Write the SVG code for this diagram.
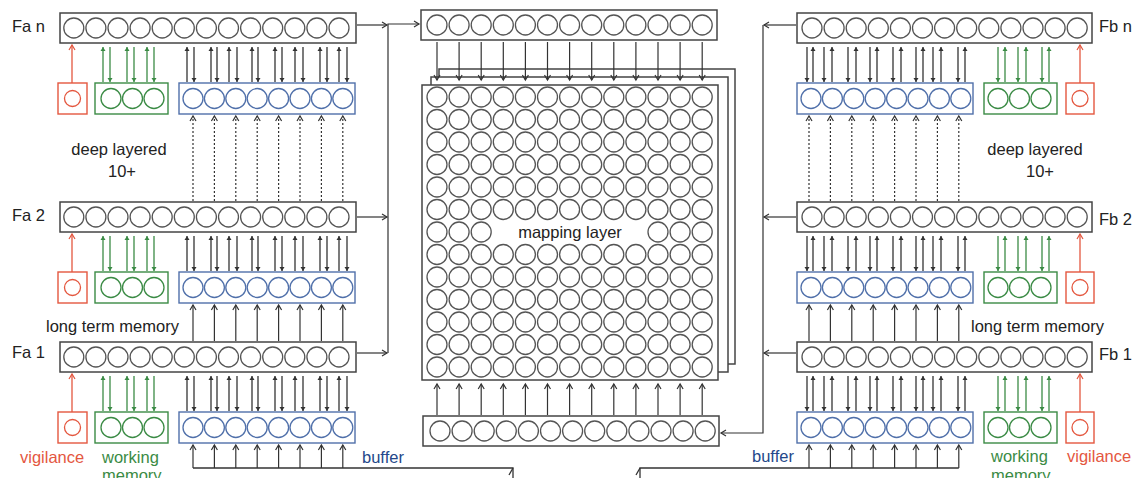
<svg xmlns="http://www.w3.org/2000/svg" xmlns:xlink="http://www.w3.org/1999/xlink" width="1137" height="478" viewBox="0 0 1137 478">
<style>
text{font-family:'Liberation Sans',Arial,sans-serif;font-size:16.5px;fill:#222}
.bx{fill:#fff;stroke:#444;stroke-width:1.5}
.cg{fill:none;stroke:#555;stroke-width:1.3}
.rb{fill:#fff;stroke:#e4573f;stroke-width:1.4}
.gb{fill:#fff;stroke:#3b8b45;stroke-width:1.4}
.bb{fill:#fff;stroke:#5070aa;stroke-width:1.4}
.rc{fill:none;stroke:#e4573f;stroke-width:1.3}
.gc{fill:none;stroke:#3b8b45;stroke-width:1.3}
.bc{fill:none;stroke:#5070aa;stroke-width:1.3}
.k{stroke:#333;stroke-width:1.3;fill:none}
.kf{stroke:#333;stroke-width:1.3;marker-end:url(#mf)}
.ko{stroke:#333;stroke-width:1.2;fill:none;marker-end:url(#mo)}
.gl{stroke:#3b8b45;stroke-width:1.3;marker-end:url(#mg)}
.rl{stroke:#e4573f;stroke-width:1.3;marker-end:url(#mr)}
.d{stroke-dasharray:2 2}
.tr{fill:#e4573f}.tg{fill:#3b8b45}.tb{fill:#24488a}
</style>
<defs>
<marker id="mf" markerUnits="userSpaceOnUse" markerWidth="6" markerHeight="6" refX="4" refY="2.5" orient="auto" overflow="visible"><path d="M0,0L4,2.5L0,5z" fill="#333"/></marker>
<marker id="mg" markerUnits="userSpaceOnUse" markerWidth="6" markerHeight="6" refX="4" refY="2.5" orient="auto" overflow="visible"><path d="M0,0L4,2.5L0,5z" fill="#3b8b45"/></marker>
<marker id="mo" markerUnits="userSpaceOnUse" markerWidth="8" markerHeight="8" refX="5" refY="3" orient="auto" overflow="visible"><path d="M0,0L5,3L0,6" fill="none" stroke="#333" stroke-width="1.2"/></marker>
<marker id="mr" markerUnits="userSpaceOnUse" markerWidth="8" markerHeight="8" refX="5" refY="3" orient="auto" overflow="visible"><path d="M0,0L5,3L0,6" fill="none" stroke="#e4573f" stroke-width="1.2"/></marker>
<g id="r13"><circle cx="0" cy="0" r="10"/><circle cx="22.1" cy="0" r="10"/><circle cx="44.2" cy="0" r="10"/><circle cx="66.3" cy="0" r="10"/><circle cx="88.4" cy="0" r="10"/><circle cx="110.5" cy="0" r="10"/><circle cx="132.6" cy="0" r="10"/><circle cx="154.7" cy="0" r="10"/><circle cx="176.8" cy="0" r="10"/><circle cx="198.9" cy="0" r="10"/><circle cx="221" cy="0" r="10"/><circle cx="243.1" cy="0" r="10"/><circle cx="265.2" cy="0" r="10"/></g>
<g id="r8"><circle cx="0" cy="0" r="10"/><circle cx="21.4" cy="0" r="10"/><circle cx="42.8" cy="0" r="10"/><circle cx="64.2" cy="0" r="10"/><circle cx="85.6" cy="0" r="10"/><circle cx="107" cy="0" r="10"/><circle cx="128.4" cy="0" r="10"/><circle cx="149.8" cy="0" r="10"/></g>
<g id="r3"><circle cx="0" cy="0" r="10"/><circle cx="21.5" cy="0" r="10"/><circle cx="43" cy="0" r="10"/></g>
<g id="r3m"><circle cx="0" cy="0" r="10"/><circle cx="22.1" cy="0" r="10"/><circle cx="44.2" cy="0" r="10"/></g>
<g id="cL">
<line class="rl" x1="72" y1="70" x2="72" y2="32"/>
<line class="gl" x1="103" y1="69" x2="103" y2="34"/><line class="gl" x1="110" y1="34" x2="110" y2="69"/>
<line class="gl" x1="127" y1="69" x2="127" y2="34"/><line class="gl" x1="134" y1="34" x2="134" y2="69"/>
<line class="gl" x1="147" y1="69" x2="147" y2="34"/><line class="gl" x1="154" y1="34" x2="154" y2="69"/>
<line class="kf" x1="187" y1="69" x2="187" y2="34"/><line class="kf" x1="194" y1="34" x2="194" y2="69"/>
<line class="kf" x1="211" y1="69" x2="211" y2="34"/><line class="kf" x1="217" y1="34" x2="217" y2="69"/>
<line class="kf" x1="229" y1="69" x2="229" y2="34"/><line class="kf" x1="237" y1="34" x2="237" y2="69"/>
<line class="kf" x1="252" y1="69" x2="252" y2="34"/><line class="kf" x1="258" y1="34" x2="258" y2="69"/>
<line class="kf" x1="275" y1="69" x2="275" y2="34"/><line class="kf" x1="282" y1="34" x2="282" y2="69"/>
<line class="kf" x1="295" y1="69" x2="295" y2="34"/><line class="kf" x1="303" y1="34" x2="303" y2="69"/>
<line class="kf" x1="320" y1="69" x2="320" y2="34"/><line class="kf" x1="327" y1="34" x2="327" y2="69"/>
<line class="kf" x1="339" y1="69" x2="339" y2="34"/><line class="kf" x1="347" y1="34" x2="347" y2="69"/>
</g>
<g id="cR">
<line class="rl" x1="1080" y1="70" x2="1080" y2="32"/>
<line class="gl" x1="998" y1="34" x2="998" y2="69"/><line class="gl" x1="1005" y1="69" x2="1005" y2="34"/>
<line class="gl" x1="1018" y1="34" x2="1018" y2="69"/><line class="gl" x1="1026" y1="69" x2="1026" y2="34"/>
<line class="gl" x1="1042" y1="34" x2="1042" y2="69"/><line class="gl" x1="1049" y1="69" x2="1049" y2="34"/>
<line class="kf" x1="807" y1="34" x2="807" y2="69"/><line class="kf" x1="813" y1="69" x2="813" y2="34"/>
<line class="kf" x1="824" y1="34" x2="824" y2="69"/><line class="kf" x1="832" y1="69" x2="832" y2="34"/>
<line class="kf" x1="848" y1="34" x2="848" y2="69"/><line class="kf" x1="856" y1="69" x2="856" y2="34"/>
<line class="kf" x1="870" y1="34" x2="870" y2="69"/><line class="kf" x1="877" y1="69" x2="877" y2="34"/>
<line class="kf" x1="893" y1="34" x2="893" y2="69"/><line class="kf" x1="901" y1="69" x2="901" y2="34"/>
<line class="kf" x1="916" y1="34" x2="916" y2="69"/><line class="kf" x1="923" y1="69" x2="923" y2="34"/>
<line class="kf" x1="933" y1="34" x2="933" y2="69"/><line class="kf" x1="941" y1="69" x2="941" y2="34"/>
<line class="kf" x1="958" y1="34" x2="958" y2="69"/><line class="kf" x1="965" y1="69" x2="965" y2="34"/>
</g>
</defs>

<!-- mapping layer (three stacked sheets) -->
<g id="mapping-layer">
<rect class="bx" x="439" y="69" width="296" height="295"/>
<rect class="bx" x="431" y="77" width="297" height="295"/>
<rect class="bx" x="422" y="85" width="296" height="295"/>
<use xlink:href="#r13" class="cg" x="437" y="97"/>
<use xlink:href="#r13" class="cg" x="437" y="119.5"/>
<use xlink:href="#r13" class="cg" x="437" y="142"/>
<use xlink:href="#r13" class="cg" x="437" y="164.5"/>
<use xlink:href="#r13" class="cg" x="437" y="187"/>
<use xlink:href="#r13" class="cg" x="437" y="209.5"/>
<use xlink:href="#r3m" class="cg" x="437" y="232"/>
<use xlink:href="#r3m" class="cg" x="658" y="232"/>
<use xlink:href="#r13" class="cg" x="437" y="254.5"/>
<use xlink:href="#r13" class="cg" x="437" y="277"/>
<use xlink:href="#r13" class="cg" x="437" y="299.5"/>
<use xlink:href="#r13" class="cg" x="437" y="322"/>
<use xlink:href="#r13" class="cg" x="437" y="344.5"/>
<use xlink:href="#r13" class="cg" x="437" y="367"/>
<text x="570" y="238" text-anchor="middle">mapping layer</text>
</g>

<g id="top-layer">
<rect class="bx" x="421" y="10" width="296" height="30"/>
<use xlink:href="#r13" class="cg" x="437" y="25"/>
</g>
<g id="bottom-layer">
<rect class="bx" x="423" y="416" width="296" height="30"/>
<use xlink:href="#r13" class="cg" x="440" y="431"/>
</g>

<!-- left stack -->
<g id="fa-n"><rect class="bx" x="60" y="13" width="296" height="30"/><use xlink:href="#r13" class="cg" x="73.8" y="28"/></g>
<g id="fa-n-vigilance"><rect class="rb" x="58" y="83" width="29" height="31"/><circle class="rc" cx="72.5" cy="98.5" r="8"/></g>
<g id="fa-n-working"><rect class="gb" x="95" y="83" width="73" height="31"/><use xlink:href="#r3" class="gc" x="111" y="98.5"/></g>
<g id="fa-n-buffer"><rect class="bb" x="179" y="83" width="176" height="31"/><use xlink:href="#r8" class="bc" x="193" y="98.5"/></g>

<g id="fa-2"><rect class="bx" x="60" y="202" width="296" height="30"/><use xlink:href="#r13" class="cg" x="73.8" y="217"/></g>
<g id="fa-2-vigilance"><rect class="rb" x="58" y="272" width="29" height="31"/><circle class="rc" cx="72.5" cy="287.5" r="8"/></g>
<g id="fa-2-working"><rect class="gb" x="95" y="272" width="73" height="31"/><use xlink:href="#r3" class="gc" x="111" y="287.5"/></g>
<g id="fa-2-buffer"><rect class="bb" x="179" y="272" width="176" height="31"/><use xlink:href="#r8" class="bc" x="193" y="287.5"/></g>

<g id="fa-1"><rect class="bx" x="60" y="342" width="296" height="30"/><use xlink:href="#r13" class="cg" x="73.8" y="357"/></g>
<g id="fa-1-vigilance"><rect class="rb" x="58" y="412" width="29" height="31"/><circle class="rc" cx="72.5" cy="427.5" r="8"/></g>
<g id="fa-1-working"><rect class="gb" x="95" y="412" width="73" height="31"/><use xlink:href="#r3" class="gc" x="111" y="427.5"/></g>
<g id="fa-1-buffer"><rect class="bb" x="179" y="412" width="176" height="31"/><use xlink:href="#r8" class="bc" x="193" y="427.5"/></g>

<!-- right stack -->
<g id="fb-n"><rect class="bx" x="797" y="13" width="295" height="30"/><use xlink:href="#r13" class="cg" x="812" y="28"/></g>
<g id="fb-n-buffer"><rect class="bb" x="797" y="83" width="176" height="31"/><use xlink:href="#r8" class="bc" x="811" y="98.5"/></g>
<g id="fb-n-working"><rect class="gb" x="984" y="83" width="73" height="31"/><use xlink:href="#r3" class="gc" x="998" y="98.5"/></g>
<g id="fb-n-vigilance"><rect class="rb" x="1066" y="83" width="28" height="31"/><circle class="rc" cx="1080" cy="98.5" r="8"/></g>

<g id="fb-2"><rect class="bx" x="797" y="202" width="295" height="30"/><use xlink:href="#r13" class="cg" x="812" y="217"/></g>
<g id="fb-2-buffer"><rect class="bb" x="797" y="272" width="176" height="31"/><use xlink:href="#r8" class="bc" x="811" y="287.5"/></g>
<g id="fb-2-working"><rect class="gb" x="984" y="272" width="73" height="31"/><use xlink:href="#r3" class="gc" x="998" y="287.5"/></g>
<g id="fb-2-vigilance"><rect class="rb" x="1066" y="272" width="28" height="31"/><circle class="rc" cx="1080" cy="287.5" r="8"/></g>

<g id="fb-1"><rect class="bx" x="797" y="342" width="295" height="30"/><use xlink:href="#r13" class="cg" x="812" y="357"/></g>
<g id="fb-1-buffer"><rect class="bb" x="797" y="412" width="176" height="31"/><use xlink:href="#r8" class="bc" x="811" y="427.5"/></g>
<g id="fb-1-working"><rect class="gb" x="984" y="412" width="73" height="31"/><use xlink:href="#r3" class="gc" x="998" y="427.5"/></g>
<g id="fb-1-vigilance"><rect class="rb" x="1066" y="412" width="28" height="31"/><circle class="rc" cx="1080" cy="427.5" r="8"/></g>

<!-- connectors -->
<g id="connectors">
<use xlink:href="#cL" y="13"/><use xlink:href="#cL" y="202"/><use xlink:href="#cL" y="342"/>
<use xlink:href="#cR" y="13"/><use xlink:href="#cR" y="202"/><use xlink:href="#cR" y="342"/>
<!-- dotted deep layers -->
<line class="ko d" x1="193" y1="201" x2="193" y2="116"/><line class="ko d" x1="214.4" y1="201" x2="214.4" y2="116"/><line class="ko d" x1="235.8" y1="201" x2="235.8" y2="116"/><line class="ko d" x1="257.2" y1="201" x2="257.2" y2="116"/><line class="ko d" x1="278.6" y1="201" x2="278.6" y2="116"/><line class="ko d" x1="300" y1="201" x2="300" y2="116"/><line class="ko d" x1="321.4" y1="201" x2="321.4" y2="116"/><line class="ko d" x1="342.8" y1="201" x2="342.8" y2="116"/>
<line class="ko d" x1="809" y1="201" x2="809" y2="116"/><line class="ko d" x1="830.4" y1="201" x2="830.4" y2="116"/><line class="ko d" x1="851.8" y1="201" x2="851.8" y2="116"/><line class="ko d" x1="873.2" y1="201" x2="873.2" y2="116"/><line class="ko d" x1="894.6" y1="201" x2="894.6" y2="116"/><line class="ko d" x1="916" y1="201" x2="916" y2="116"/><line class="ko d" x1="937.4" y1="201" x2="937.4" y2="116"/><line class="ko d" x1="958.8" y1="201" x2="958.8" y2="116"/>
<!-- F1 to F2 buffers -->
<line class="ko" x1="193" y1="341" x2="193" y2="305"/><line class="ko" x1="214.4" y1="341" x2="214.4" y2="305"/><line class="ko" x1="235.8" y1="341" x2="235.8" y2="305"/><line class="ko" x1="257.2" y1="341" x2="257.2" y2="305"/><line class="ko" x1="278.6" y1="341" x2="278.6" y2="305"/><line class="ko" x1="300" y1="341" x2="300" y2="305"/><line class="ko" x1="321.4" y1="341" x2="321.4" y2="305"/><line class="ko" x1="342.8" y1="341" x2="342.8" y2="305"/>
<line class="ko" x1="809" y1="341" x2="809" y2="305"/><line class="ko" x1="830.4" y1="341" x2="830.4" y2="305"/><line class="ko" x1="851.8" y1="341" x2="851.8" y2="305"/><line class="ko" x1="873.2" y1="341" x2="873.2" y2="305"/><line class="ko" x1="894.6" y1="341" x2="894.6" y2="305"/><line class="ko" x1="916" y1="341" x2="916" y2="305"/><line class="ko" x1="937.4" y1="341" x2="937.4" y2="305"/><line class="ko" x1="958.8" y1="341" x2="958.8" y2="305"/>
<!-- input buffers -->
<path class="k" d="M193,468H513V480"/><path class="k" d="M513,468L509,475"/>
<path class="k" d="M958.8,468H640V480"/><path class="k" d="M640,468L636,475"/>
<line class="ko" x1="193" y1="468" x2="193" y2="445"/><line class="ko" x1="214.4" y1="468" x2="214.4" y2="445"/><line class="ko" x1="235.8" y1="468" x2="235.8" y2="445"/><line class="ko" x1="257.2" y1="468" x2="257.2" y2="445"/><line class="ko" x1="278.6" y1="468" x2="278.6" y2="445"/><line class="ko" x1="300" y1="468" x2="300" y2="445"/><line class="ko" x1="321.4" y1="468" x2="321.4" y2="445"/><line class="ko" x1="342.8" y1="468" x2="342.8" y2="445"/>
<line class="ko" x1="809" y1="468" x2="809" y2="445"/><line class="ko" x1="830.4" y1="468" x2="830.4" y2="445"/><line class="ko" x1="851.8" y1="468" x2="851.8" y2="445"/><line class="ko" x1="873.2" y1="468" x2="873.2" y2="445"/><line class="ko" x1="894.6" y1="468" x2="894.6" y2="445"/><line class="ko" x1="916" y1="468" x2="916" y2="445"/><line class="ko" x1="937.4" y1="468" x2="937.4" y2="445"/><line class="ko" x1="958.8" y1="468" x2="958.8" y2="445"/>
<!-- top layer to mapping -->
<line class="ko" x1="437" y1="42" x2="437" y2="80"/><line class="ko" x1="459.1" y1="42" x2="459.1" y2="80"/><line class="ko" x1="481.2" y1="42" x2="481.2" y2="80"/><line class="ko" x1="503.3" y1="42" x2="503.3" y2="80"/><line class="ko" x1="525.4" y1="42" x2="525.4" y2="80"/><line class="ko" x1="547.5" y1="42" x2="547.5" y2="80"/><line class="ko" x1="569.6" y1="42" x2="569.6" y2="80"/><line class="ko" x1="591.7" y1="42" x2="591.7" y2="80"/><line class="ko" x1="613.8" y1="42" x2="613.8" y2="80"/><line class="ko" x1="635.9" y1="42" x2="635.9" y2="80"/><line class="ko" x1="658" y1="42" x2="658" y2="80"/><line class="ko" x1="680.1" y1="42" x2="680.1" y2="80"/><line class="ko" x1="702.2" y1="42" x2="702.2" y2="80"/>
<!-- bottom layer to mapping -->
<line class="ko" x1="437" y1="415" x2="437" y2="384"/><line class="ko" x1="459.1" y1="415" x2="459.1" y2="384"/><line class="ko" x1="481.2" y1="415" x2="481.2" y2="384"/><line class="ko" x1="503.3" y1="415" x2="503.3" y2="384"/><line class="ko" x1="525.4" y1="415" x2="525.4" y2="384"/><line class="ko" x1="547.5" y1="415" x2="547.5" y2="384"/><line class="ko" x1="569.6" y1="415" x2="569.6" y2="384"/><line class="ko" x1="591.7" y1="415" x2="591.7" y2="384"/><line class="ko" x1="613.8" y1="415" x2="613.8" y2="384"/><line class="ko" x1="635.9" y1="415" x2="635.9" y2="384"/><line class="ko" x1="658" y1="415" x2="658" y2="384"/><line class="ko" x1="680.1" y1="415" x2="680.1" y2="384"/><line class="ko" x1="702.2" y1="415" x2="702.2" y2="384"/>
<!-- collectors -->
<line class="ko" x1="357" y1="25" x2="387" y2="25"/><line class="ko" x1="357" y1="217" x2="387" y2="217"/><line class="ko" x1="357" y1="353" x2="387" y2="353"/>
<path class="ko" d="M388,353V24H419"/>
<line class="ko" x1="796" y1="25" x2="764" y2="25"/><line class="ko" x1="796" y1="217" x2="764" y2="217"/><line class="ko" x1="796" y1="353" x2="764" y2="353"/>
<path class="ko" d="M763,25V433H721"/>
</g>

<!-- labels -->
<g id="labels">
<text x="12" y="32">Fa n</text>
<text x="12" y="221">Fa 2</text>
<text x="12" y="358">Fa 1</text>
<text x="1099" y="32">Fb n</text>
<text x="1099" y="225">Fb 2</text>
<text x="1099" y="360">Fb 1</text>
<text x="119" y="155" text-anchor="middle">deep layered</text>
<text x="122" y="177" text-anchor="middle">10+</text>
<text x="1035" y="155" text-anchor="middle">deep layered</text>
<text x="1040" y="177" text-anchor="middle">10+</text>
<text x="46" y="332">long term memory</text>
<text x="971" y="332">long term memory</text>
<text class="tr" x="20" y="463">vigilance</text>
<text class="tg" x="102" y="463">working</text>
<text class="tg" x="102" y="481">memory</text>
<text class="tb" x="362" y="463">buffer</text>
<text class="tb" x="752" y="462">buffer</text>
<text class="tg" x="991" y="462">working</text>
<text class="tg" x="991" y="481">memory</text>
<text class="tr" x="1067" y="462">vigilance</text>
</g>
</svg>
